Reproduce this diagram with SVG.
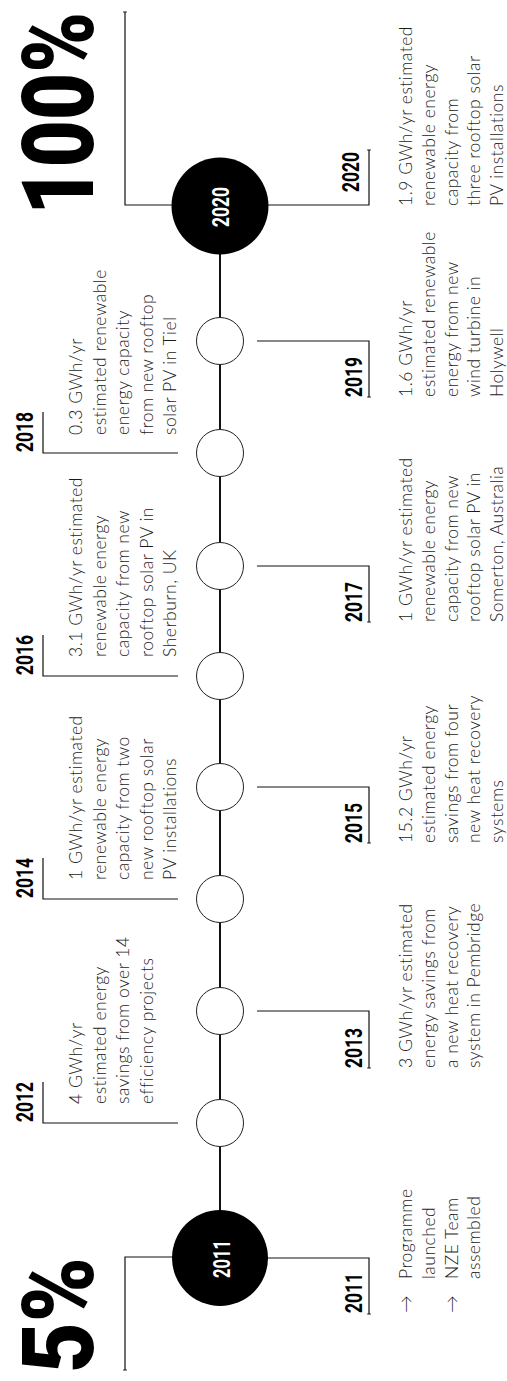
<svg xmlns="http://www.w3.org/2000/svg" width="507" height="1381" viewBox="0 0 507 1381">
<defs>
<style>
.big{font-family:Roboto,"DejaVu Sans",sans-serif;font-weight:900;font-size:100px;fill:#000}
.yr{font-family:Roboto,"DejaVu Sans",sans-serif;font-weight:700;font-size:24px;fill:#000}
.cyr{font-family:Roboto,"DejaVu Sans",sans-serif;font-weight:700;font-size:23px;fill:#fff;text-anchor:middle}
.desc{font-family:Lato,"Open Sans",sans-serif;font-weight:300;font-size:17.5px;fill:#1a1a1a;letter-spacing:0.5px}
.br{fill:none;stroke:#111;stroke-width:1.2}
.sc{fill:#fff;stroke:#222;stroke-width:1}
.bc{fill:#000}
.tl{stroke:#111;stroke-width:2}
</style>
<marker id="tick" markerUnits="userSpaceOnUse" markerWidth="6" markerHeight="6" viewBox="-3 -3 6 6" refX="0" refY="0" orient="auto">
<path d="M0,-1.8V1.8" stroke="#111" stroke-width="1"/>
</marker>
</defs>
<rect width="507" height="1381" fill="#fff"/>
<g transform="translate(0,1381) rotate(-90)">
<g id="connectors">
<line class="tl" x1="123" y1="220" x2="1175" y2="220"/>
<path class="br" d="M124,173V125H11" marker-end="url(#tick)"/>
<path class="br" d="M1176,173V125H1369" marker-end="url(#tick)"/>
<path class="br" d="M123,268V369H67" marker-end="url(#tick)"/>
<path class="br" d="M258,178V43H299"/>
<path class="br" d="M370,257V369H313" marker-end="url(#tick)"/>
<path class="br" d="M482,178V43H523"/>
<path class="br" d="M594,257V369H538" marker-end="url(#tick)"/>
<path class="br" d="M705,178V43H746"/>
<path class="br" d="M815,257V369H759" marker-end="url(#tick)"/>
<path class="br" d="M928,178V43H969"/>
<path class="br" d="M1040,257V369H984" marker-end="url(#tick)"/>
<path class="br" d="M1176,268V369H1231" marker-end="url(#tick)"/>
</g>
<g id="pct5"><text class="big" transform="translate(8,93) scale(0.9,1)" x="0" y="0" textLength="128.9" lengthAdjust="spacingAndGlyphs">5%</text></g>
<g id="pct100"><text class="big" transform="translate(1166,93) scale(0.84,1)" x="0" y="0" textLength="241.7" lengthAdjust="spacingAndGlyphs">100%</text></g>
<g id="n2011">
<circle class="bc" cx="123" cy="220" r="48"/>
<text class="cyr" x="122" y="230" textLength="38" lengthAdjust="spacingAndGlyphs">2011</text>
<text class="yr" x="68" y="362" textLength="40" lengthAdjust="spacingAndGlyphs">2011</text>
<text class="desc"><tspan x="68" y="412">→</tspan><tspan x="102" y="412">Programme</tspan><tspan x="102" y="434.8">launched</tspan><tspan x="68" y="457.6">→</tspan><tspan x="102" y="457.6">NZE Team</tspan><tspan x="102" y="480.4">assembled</tspan></text>
</g>
<g id="n2012">
<circle class="sc" cx="258" cy="220" r="23.5"/>
<text class="yr" x="259" y="33" textLength="40" lengthAdjust="spacingAndGlyphs">2012</text>
<text class="desc"><tspan x="277" y="82">4 GWh/yr</tspan><tspan x="277" y="105.5">estimated energy</tspan><tspan x="277" y="129">savings from over 14</tspan><tspan x="277" y="152.5">efficiency projects</tspan></text>
</g>
<g id="n2013">
<circle class="sc" cx="370" cy="220" r="23.5"/>
<text class="yr" x="313" y="362" textLength="40" lengthAdjust="spacingAndGlyphs">2013</text>
<text class="desc"><tspan x="313" y="412">3 GWh/yr estimated</tspan><tspan x="313" y="434.8">energy savings from</tspan><tspan x="313" y="457.6">a new heat recovery</tspan><tspan x="313" y="480.4">system in Pembridge</tspan></text>
</g>
<g id="n2014">
<circle class="sc" cx="482" cy="220" r="23.5"/>
<text class="yr" x="483" y="33" textLength="40" lengthAdjust="spacingAndGlyphs">2014</text>
<text class="desc"><tspan x="501" y="82">1 GWh/yr estimated</tspan><tspan x="501" y="105.5">renewable energy</tspan><tspan x="501" y="129">capacity from two</tspan><tspan x="501" y="152.5">new rooftop solar</tspan><tspan x="501" y="176">PV installations</tspan></text>
</g>
<g id="n2015">
<circle class="sc" cx="594" cy="220" r="23.5"/>
<text class="yr" x="538" y="362" textLength="40" lengthAdjust="spacingAndGlyphs">2015</text>
<text class="desc"><tspan x="538" y="412">15.2 GWh/yr</tspan><tspan x="538" y="434.8">estimated energy</tspan><tspan x="538" y="457.6">savings from four</tspan><tspan x="538" y="480.4">new heat recovery</tspan><tspan x="538" y="503.2">systems</tspan></text>
</g>
<g id="n2016">
<circle class="sc" cx="705" cy="220" r="23.5"/>
<text class="yr" x="706" y="33" textLength="40" lengthAdjust="spacingAndGlyphs">2016</text>
<text class="desc"><tspan x="724" y="82">3.1 GWh/yr estimated</tspan><tspan x="724" y="105.5">renewable energy</tspan><tspan x="724" y="129">capacity from new</tspan><tspan x="724" y="152.5">rooftop solar PV in</tspan><tspan x="724" y="176">Sherburn, UK</tspan></text>
</g>
<g id="n2017">
<circle class="sc" cx="815" cy="220" r="23.5"/>
<text class="yr" x="759" y="362" textLength="40" lengthAdjust="spacingAndGlyphs">2017</text>
<text class="desc"><tspan x="759" y="412">1 GWh/yr estimated</tspan><tspan x="759" y="434.8">renewable energy</tspan><tspan x="759" y="457.6">capacity from new</tspan><tspan x="759" y="480.4">rooftop solar PV in</tspan><tspan x="759" y="503.2">Somerton, Australia</tspan></text>
</g>
<g id="n2018">
<circle class="sc" cx="928" cy="220" r="23.5"/>
<text class="yr" x="929" y="33" textLength="40" lengthAdjust="spacingAndGlyphs">2018</text>
<text class="desc"><tspan x="946" y="82">0.3 GWh/yr</tspan><tspan x="946" y="105.5">estimated renewable</tspan><tspan x="946" y="129">energy capacity</tspan><tspan x="946" y="152.5">from new rooftop</tspan><tspan x="946" y="176">solar PV in Tiel</tspan></text>
</g>
<g id="n2019">
<circle class="sc" cx="1040" cy="220" r="23.5"/>
<text class="yr" x="984" y="362" textLength="40" lengthAdjust="spacingAndGlyphs">2019</text>
<text class="desc"><tspan x="984" y="412">1.6 GWh/yr</tspan><tspan x="984" y="434.8">estimated renewable</tspan><tspan x="984" y="457.6">energy from new</tspan><tspan x="984" y="480.4">wind turbine in</tspan><tspan x="984" y="503.2">Holywell</tspan></text>
</g>
<g id="n2020">
<circle class="bc" cx="1175" cy="220" r="48.5"/>
<text class="cyr" x="1174" y="229" textLength="40" lengthAdjust="spacingAndGlyphs">2020</text>
<text class="yr" x="1189" y="359" textLength="40" lengthAdjust="spacingAndGlyphs">2020</text>
<text class="desc"><tspan x="1175" y="412">1.9 GWh/yr estimated</tspan><tspan x="1175" y="434.8">renewable energy</tspan><tspan x="1175" y="457.6">capacity from</tspan><tspan x="1175" y="480.4">three rooftop solar</tspan><tspan x="1175" y="503.2">PV installations</tspan></text>
</g>
</g>
</svg>
